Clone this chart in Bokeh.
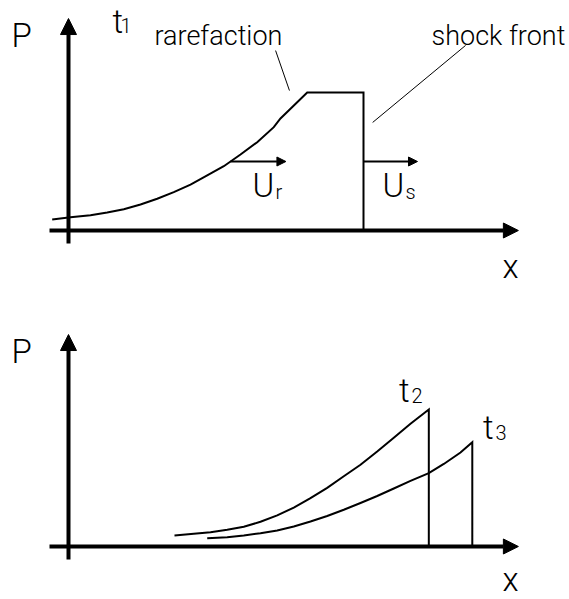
from bokeh.plotting import figure
from bokeh.models import Range1d, Arrow, NormalHead, Label
from bokeh.layouts import column
from bokeh.embed import file_html
from bokeh.resources import INLINE

# ---------------- data (diagram units: x = distance, P = pressure / plateau) ----
# top panel: pressure profile at t1 (rarefaction curve, plateau, shock front)
t1_x = [-0.553, 0.068, 0.746, 1.312, 1.875, 2.441, 3.007, 3.569, 4.136, 4.702,
        5.264, 5.831, 6.397, 6.959, 7.186, 8.092, 10.0, 10.0]
t1_p = [0.080, 0.096, 0.111, 0.130, 0.154, 0.188, 0.230, 0.278, 0.333, 0.399,
        0.466, 0.551, 0.640, 0.749, 0.812, 1.0, 1.0, 0.0]

# velocity arrows (start x, end x, level P)
ur_arrow = [5.49, 7.37, 0.50]
us_arrow = [10.0, 11.83, 0.50]

# leader lines for the annotations
rare_lead_x = [7.02, 7.49]
rare_lead_p = [1.304, 1.014]
shock_lead_x = [13.46, 10.31]
shock_lead_p = [1.341, 0.783]

# bottom panel: decaying profiles at t2 and t3
t2_x = [3.593, 4.247, 4.814, 5.380, 5.942, 6.508, 7.075, 7.637, 8.203, 8.769,
        9.332, 9.898, 10.464, 11.027, 11.593, 12.214, 12.214]
t2_p = [0.080, 0.092, 0.104, 0.121, 0.143, 0.179, 0.225, 0.282, 0.350, 0.425,
        0.509, 0.592, 0.688, 0.788, 0.889, 0.993, 0.0]
t3_x = [4.702, 5.380, 5.942, 6.508, 7.075, 7.637, 8.203, 8.769, 9.332, 9.898,
        10.464, 11.027, 11.593, 12.214, 12.722, 13.288, 13.688, 13.688]
t3_p = [0.060, 0.067, 0.080, 0.096, 0.116, 0.145, 0.181, 0.221, 0.266, 0.315,
        0.366, 0.420, 0.475, 0.531, 0.598, 0.681, 0.756, 0.0]

# axes extents
x_axis_span = [-0.644, 15.25]
p_axis_span = [-0.094, 1.536]

labels = ["P", "x", "t", "1", "2", "3", "U", "r", "s", "rarefaction", "shock front"]

FONT = "Roboto Light"
BIG, SUB, ANN = 33, 20, 27
SHIFT = {BIG: 10, SUB: 6, ANN: 8}


def make_fig(height, y_lo, y_hi):
    p = figure(width=569, height=height,
               x_range=Range1d(-2.305, 16.983), y_range=Range1d(y_lo, y_hi),
               output_backend="svg", toolbar_location=None,
               x_axis_location=None, y_axis_location=None,
               min_border=0, outline_line_color=None)
    p.grid.visible = False
    # diagram axes
    p.add_layout(Arrow(x_start=x_axis_span[0], y_start=0, x_end=x_axis_span[1], y_end=0,
                       line_width=4, line_color="black",
                       end=NormalHead(size=15, fill_color="black", line_color="black", line_width=1)))
    p.add_layout(Arrow(x_start=0, y_start=p_axis_span[0], x_end=0, y_end=p_axis_span[1],
                       line_width=4, line_color="black",
                       end=NormalHead(size=16, fill_color="black", line_color="black", line_width=1)))
    return p


def lab(p, x, y, text, size):
    p.add_layout(Label(x=x, y=y, y_offset=SHIFT[size], text=text, text_font=FONT,
                       text_font_size=f"{size}px",
                       text_baseline="alphabetic", text_align="left", text_color="black"))


# ---------------- top panel ----------------
top = make_fig(300, -0.5072, 1.6667)
top.line(t1_x, t1_p, line_width=2, line_color="black", line_join="miter")
for a in (ur_arrow, us_arrow):
    top.add_layout(Arrow(x_start=a[0], y_start=a[2], x_end=a[1], y_end=a[2],
                         line_width=2, line_color="black",
                         end=NormalHead(size=9, fill_color="black", line_color="black", line_width=1)))
top.line(rare_lead_x, rare_lead_p, line_width=1, line_color="black")
top.line(shock_lead_x, shock_lead_p, line_width=1, line_color="black")

lab(top, -1.932, 1.341, labels[0], BIG)
lab(top, 1.492, 1.445, labels[2], BIG)
lab(top, 1.763, 1.439, labels[3], SUB)
lab(top, 2.915, 1.355, labels[9], ANN)
lab(top, 12.305, 1.355, labels[10], ANN)
lab(top, 6.237, 0.254, labels[6], BIG)
lab(top, 7.017, 0.239, labels[7], SUB)
lab(top, 10.644, 0.254, labels[6], BIG)
lab(top, 11.42, 0.239, labels[8], SUB)
lab(top, 14.712, -0.333, labels[1], BIG)

# ---------------- bottom panel ----------------
bot = make_fig(299, -0.3841, 1.7826)
bot.line(t2_x, t2_p, line_width=2, line_color="black", line_join="miter")
bot.line(t3_x, t3_p, line_width=2, line_color="black", line_join="miter")

lab(bot, -1.932, 1.341, labels[0], BIG)
lab(bot, 11.203, 1.058, labels[2], BIG)
lab(bot, 11.627, 1.050, labels[4], SUB)
lab(bot, 14.051, 0.790, labels[2], BIG)
lab(bot, 14.475, 0.782, labels[5], SUB)
lab(bot, 14.712, -0.310, labels[1], BIG)

layout = column(top, bot, spacing=0)
open("out.html", "w").write(file_html(layout, INLINE))
